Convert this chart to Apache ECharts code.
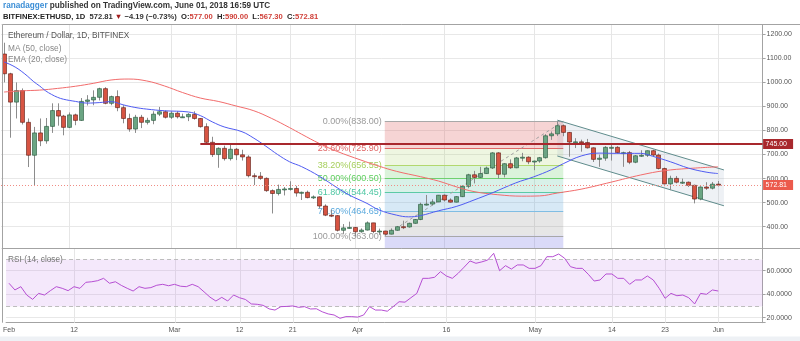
<!DOCTYPE html>
<html><head><meta charset="utf-8">
<script src="https://cdn.jsdelivr.net/npm/echarts@6/dist/echarts.min.js"></script>
<style>html,body{margin:0;padding:0;background:#fff}#c{width:800px;height:341px}</style>
</head><body><div id="c"></div>
<script>
// ---- data ----
const opens = [1118,1036,918,966,834,697,790,757,817,883,
 860,813,865,842,921,927,938,974,913,941,
 895,850,806,855,834,842,868,878,855,872,
 857,857,867,850,816,751,700,726,683,722,
 699,690,612,610,601,550,538,555,557,559,
 540,543,521,524,486,448,446,385,395,397,
 379,386,416,380,382,369,385,400,399,414,
 430,493,494,503,531,511,502,525,568,616,
 605,621,644,707,618,662,645,686,689,670,
 673,687,778,786,820,792,752,753,750,728,
 680,685,730,730,708,708,668,695,697,716,
 698,642,578,601,585,585,572,515,565,560,
 577];
const closes = [1036,918,966,834,697,790,757,817,883,860,
 813,865,842,921,927,938,974,913,941,895,
 850,806,855,834,842,868,878,855,872,857,
 857,867,850,816,751,700,726,683,722,699,
 690,612,610,601,550,538,555,557,559,540,
 543,521,524,486,448,446,385,395,397,379,
 386,416,380,382,369,385,400,399,414,430,
 493,494,503,531,511,502,525,568,616,605,
 621,644,707,618,662,645,686,689,670,673,
 687,778,786,820,792,752,753,750,728,680,
 685,730,730,708,708,668,695,697,716,698,
 642,578,601,585,585,572,515,565,560,577,
 572.81];
const lows = [1000,770,850,825,648,573,735,745,790,820,
 780,810,822,840,904,905,925,909,905,880,
 830,795,790,810,825,826,860,850,848,850,
 852,839,845,812,745,690,645,675,675,677,
 675,605,573,595,545,455,530,530,550,525,
 511,518,515,476,444,440,380,370,392,360,
 375,384,373,366,363,368,383,390,396,412,
 427,488,488,502,505,500,501,523,560,580,
 603,620,640,600,605,640,643,672,660,635,
 666,683,761,777,776,691,727,712,725,669,
 649,674,675,705,649,660,664,690,690,694,
 638,576,552,580,578,565,497,510,553,555,
 567.3];
const highs = [1165,1040,1000,975,850,815,850,852,913,913,
 865,875,870,935,947,967,978,980,945,967,
 905,870,865,865,853,880,898,883,880,880,
 870,872,880,852,830,774,730,737,746,727,
 720,697,622,627,605,555,575,565,589,570,
 546,550,530,526,493,470,448,411,421,399,
 393,422,416,392,383,393,403,425,417,432,
 500,532,514,532,534,518,527,571,620,632,
 649,650,710,710,664,680,690,707,693,675,
 690,785,796,838,825,794,768,762,765,730,
 700,735,740,735,712,715,698,718,717,720,
 704,646,612,611,600,588,575,568,585,586,
 590];
const maDays = [0,3,6,9,12,15,18,21,24,27,30,33,36,39,42,45,48,50,53,56,60,63,66,70,73,76,79,83,87,90,93,97,102,107,111,115,120];
const maVals = [960,965,968,975,984,996,1010,1014,1006,985,958,935,921,902,882,850,812,785,746,713,677,652,630,608,590,566,546,533,527,528,540,556,585,615,633,642,649];
const emaDays = [0,1,2,3,4,5,6,7,8,9,10,12,14,16,18,20,22,24,27,31,33,35,37,40,42,44,46,48,50,53,56,58,61,63,66,68,70,73,76,79,82,86,89,92,94,97,100,103,107,109,112,115,118,120];
const emaVals = [1085,1075,1062,1045,1025,1003,985,965,950,938,930,921,914,916,920,907,896,889,882,877,862,836,815,795,768,735,700,670,650,610,562,532,497,470,448,441,446,466,484,511,540,582,607,637,662,694,706,705,705,693,670,644,627,621];
const rsiVals = [49.3,43.6,46.4,39.3,35.6,40.7,39.3,43.0,46.4,45.0,
 43.0,46.4,45.0,50.1,50.6,51.5,53.5,49.3,50.6,47.5,
 45.0,42.7,46.4,45.0,45.6,47.6,48.4,47.2,48.4,46.8,
 46.4,48.4,46.4,42.0,37.5,34.2,37.3,34.2,39.3,37.0,
 35.5,31.7,31.4,30.5,27.5,26.5,29.4,29.6,30.0,28.8,
 29.4,27.4,27.6,25.0,23.2,22.3,19.5,20.9,20.9,20.5,
 22.3,29.4,26.5,26.5,25.5,29.4,33.6,33.2,37.0,40.7,
 53.5,53.5,54.4,59.2,55.5,53.5,57.8,63.0,68.3,66.3,
 67.5,69.1,74.8,60.0,64.3,61.4,64.9,64.9,62.0,62.0,
 64.3,71.9,71.9,74.2,70.6,63.4,62.0,62.0,57.0,51.2,
 52.1,57.2,57.2,53.5,53.5,48.4,52.1,52.1,55.5,52.1,
 45.0,36.5,40.7,38.7,39.3,37.0,31.7,40.7,39.9,43.6,
 42.7];
const xTickIdx = [0,11,28,39,48,59,74,89,102,111,120];
const xTickText = ['Feb','12','Mar','12','21','Apr','16','May','14','23','Jun'];
const fibLevels = [838.00,725.90,656.55,600.50,544.45,464.65,363.00];
const fibRatios = [0,23.6,38.2,50,61.8,78.6,100];
const fibStart = 64, fibEnd = 94;
const chanX = [93,121], chanUpper = [843,636], chanLower = [694,487];
const resLevel = 745, resStart = 33;
const lastPrice = 572.81;

// ---- build ----
const dates = [];
for (let i = 0; i < 128; i++) { const t = new Date(Date.UTC(2018,1,1+i)); dates.push(t.toISOString().slice(0,10)); }
const candleData = opens.map((o,i)=>[i,o,closes[i],lows[i],highs[i]]);
const maData = maDays.map((d,i)=>[d,maVals[i]]);
const emaData = emaDays.map((d,i)=>[d,emaVals[i]]);
const FF = '"Liberation Sans", Arial, sans-serif';

const fibFill = ['rgba(224,102,102,0.28)','rgba(169,212,106,0.2)','rgba(92,200,92,0.22)','rgba(76,190,150,0.22)','rgba(100,170,220,0.26)','rgba(128,128,128,0.2)','rgba(120,120,230,0.27)'];
const fibLine = ['#a8a8a8','#e06666','#b2d86e','#6fd06f','#5ccaa6','#80bde3','#a8a8a8'];
const fibText = ['#9a9a9a','#e06666','#a6cf5c','#5fcf5f','#4cc6a2','#5aa9dd','#9a9a9a'];

function vgrid(params, api, ch){
  const cs = params.coordSys;
  xTickIdx.forEach(i=>{ if(i===0) return; const x = Math.round(api.coord([i,0])[0])+0.5;
    ch.push({type:'line',shape:{x1:x,y1:cs.y,x2:x,y2:cs.y+cs.height},style:{stroke:'#e6e6e6',lineWidth:1}}); });
}
function renderBack(params, api){
  const cs = params.coordSys, ch = [];
  const P = (d,v)=>api.coord([d,v]);
  vgrid(params, api, ch);
  const fx0 = P(fibStart,500)[0], fx1 = P(fibEnd,500)[0];
  for (let i=0;i<fibLevels.length-1;i++){
    const y0 = P(fibStart,fibLevels[i])[1], y1 = P(fibStart,fibLevels[i+1])[1];
    ch.push({type:'rect',shape:{x:fx0,y:y0,width:fx1-fx0,height:y1-y0},style:{fill:fibFill[i]}});
  }
  const yb = P(fibStart,fibLevels[6])[1];
  ch.push({type:'rect',shape:{x:fx0,y:yb,width:fx1-fx0,height:cs.y+cs.height-yb},style:{fill:fibFill[6]}});
  fibLevels.forEach((lv,i)=>{
    const y = Math.round(P(fibStart,lv)[1])+0.5;
    ch.push({type:'line',shape:{x1:fx0,y1:y,x2:fx1,y2:y},style:{stroke:fibLine[i],lineWidth:1}});
    ch.push({type:'text',x:fx0-3,y:y,style:{text:fibRatios[i].toFixed(2)+'%('+lv.toFixed(2)+')',fill:fibText[i],align:'right',verticalAlign:'middle',fontSize:9,fontFamily:FF}});
  });
  const a = P(fibStart,fibLevels[6]), b = P(fibEnd,fibLevels[0]);
  ch.push({type:'line',shape:{x1:a[0],y1:a[1],x2:b[0],y2:b[1]},style:{stroke:'#a0a0a0',lineWidth:1,lineDash:[3,3]}});
  const u0 = P(chanX[0],chanUpper[0]), u1 = P(chanX[1],chanUpper[1]), l0 = P(chanX[0],chanLower[0]), l1 = P(chanX[1],chanLower[1]);
  ch.push({type:'polygon',shape:{points:[u0,u1,l1,l0]},style:{fill:'rgba(150,170,195,0.16)'}});
  ch.push({type:'line',shape:{x1:u0[0],y1:u0[1],x2:u1[0],y2:u1[1]},style:{stroke:'#5f8c8c',lineWidth:1}});
  ch.push({type:'line',shape:{x1:l0[0],y1:l0[1],x2:l1[0],y2:l1[1]},style:{stroke:'#5f8c8c',lineWidth:1}});
  return {type:'group',children:ch};
}
function renderCandle(params, api){
  const d=api.value(0), o=api.value(1), c=api.value(2), l=api.value(3), h=api.value(4);
  const pO=api.coord([d,o]), pC=api.coord([d,c]), pL=api.coord([d,l]), pH=api.coord([d,h]);
  const x = Math.round(pO[0])+0.5, up = c>=o, w=4;
  const top=Math.min(pO[1],pC[1]), bot=Math.max(pO[1],pC[1]);
  return {type:'group',children:[
    {type:'line',shape:{x1:x,y1:pH[1],x2:x,y2:pL[1]},style:{stroke:'#8c8c8c',lineWidth:1}},
    {type:'rect',shape:{x:x-w/2,y:top,width:w,height:Math.max(bot-top,1)},style:{fill:up?'#6ba583':'#d75442',stroke:up?'#225437':'#5b1a13',lineWidth:0.6}}
  ]};
}
function renderFront(params, api){
  const cs = params.coordSys, ch = [];
  const P = (d,v)=>api.coord([d,v]);
  const xr = cs.x+cs.width;
  const yR = Math.round(P(0,resLevel)[1]);
  ch.push({type:'line',shape:{x1:P(resStart,resLevel)[0],y1:yR,x2:xr,y2:yR},style:{stroke:'#a8282d',lineWidth:2}});
  const yP = Math.round(P(0,lastPrice)[1])+0.5;
  ch.push({type:'line',shape:{x1:cs.x,y1:yP,x2:xr,y2:yP},style:{stroke:'#f08c84',lineWidth:1,lineDash:[1,2]}});
  ch.push({type:'rect',shape:{x:xr+0.5,y:yR-5,width:30,height:10},style:{fill:'#a8282d'}});
  ch.push({type:'text',x:xr+3,y:yR,style:{text:resLevel.toFixed(2),fill:'#fff',verticalAlign:'middle',fontSize:7,fontFamily:FF}});
  ch.push({type:'rect',shape:{x:xr+0.5,y:yP-5.5,width:30,height:10},style:{fill:'#ec5a4c'}});
  ch.push({type:'text',x:xr+3,y:yP-0.5,style:{text:lastPrice.toFixed(2),fill:'#fff',verticalAlign:'middle',fontSize:7,fontFamily:FF}});
  return {type:'group',children:ch};
}
function renderRsiBack(params, api){
  const cs = params.coordSys, ch = [];
  vgrid(params, api, ch);
  const y70 = Math.round(api.coord([0,70])[1])+0.5, y30 = Math.round(api.coord([0,30])[1])+0.5;
  ch.push({type:'rect',shape:{x:cs.x,y:y70,width:cs.width,height:y30-y70},style:{fill:'rgba(190,120,230,0.17)'}});
  [y70,y30].forEach(y=>ch.push({type:'line',shape:{x1:cs.x,y1:y,x2:cs.x+cs.width,y2:y},style:{stroke:'#bdbdbd',lineWidth:1,lineDash:[4,3]}}));
  return {type:'group',children:ch};
}

const chart = echarts.init(document.getElementById('c'), null, {renderer:'canvas'});
const axisGray = '#a3a3a3';
chart.setOption({
  animation:false,
  backgroundColor:'#fff',
  textStyle:{fontFamily:FF},
  title:[
    {left:3, top:1, padding:0, text:'{a|ranadagger}{b| published on TradingView.com, June 01, 2018 16:59 UTC}',
     textStyle:{rich:{a:{color:'#3b8ed6',fontSize:8.2,fontFamily:FF,lineHeight:10},b:{color:'#333',fontSize:8.2,fontFamily:FF,lineHeight:10}}}},
    {left:3, top:12, padding:0, text:'{k|BITFINEX:ETHUSD, 1D}{n|  572.81 }{r|▼}{n| −4.19 (−0.73%)  }{k|O:}{v|577.00}{k|  H:}{v|590.00}{k|  L:}{v|567.30}{k|  C:}{v|572.81}',
     textStyle:{rich:{k:{color:'#222',fontWeight:'bold',fontSize:7.6,fontFamily:FF,lineHeight:10},n:{color:'#333',fontSize:7.6,fontFamily:FF,lineHeight:10},r:{color:'#a11d1d',fontSize:7.6,fontFamily:FF,lineHeight:10},v:{color:'#d0413a',fontSize:7.6,fontFamily:FF,lineHeight:10}}}}
  ],
  graphic:[
    {type:'line',shape:{x1:2.5,y1:24.5,x2:800,y2:24.5},style:{stroke:axisGray,lineWidth:1},z:10},
    {type:'line',shape:{x1:2.5,y1:24.5,x2:2.5,y2:322.7},style:{stroke:axisGray,lineWidth:1},z:10},
    {type:'line',shape:{x1:2.5,y1:248.5,x2:800,y2:248.5},style:{stroke:axisGray,lineWidth:1},z:10},
    {type:'rect',shape:{x:0,y:336.5,width:800,height:5},style:{fill:'#eef1f5'},z:10},
    {type:'text',left:8,top:32,style:{text:'Ethereum / Dollar, 1D, BITFINEX',fill:'#555',fontSize:8.3,fontFamily:FF},z:10},
    {type:'text',left:8,top:44.5,style:{text:'MA (50, close)',fill:'#888',fontSize:8.3,fontFamily:FF},z:10},
    {type:'text',left:8,top:55.5,style:{text:'EMA (20, close)',fill:'#888',fontSize:8.3,fontFamily:FF},z:10},
    {type:'text',left:8,top:255.5,style:{text:'RSI (14, close)',fill:'#777',fontSize:8.3,fontFamily:FF},z:10}
  ],
  grid:[
    {left:1, top:24.5, width:761.6, height:224},
    {left:1, top:248.5, width:761.6, height:74.2}
  ],
  xAxis:[
    {type:'category', gridIndex:0, data:dates, boundaryGap:true, axisLine:{show:false}, axisTick:{show:false}, axisLabel:{show:false}, splitLine:{show:false}},
    {type:'category', gridIndex:1, data:dates, boundaryGap:true, axisLine:{show:true,lineStyle:{color:axisGray}}, axisTick:{show:false},
     axisLabel:{interval:(i)=>xTickIdx.indexOf(i)>=0, formatter:(v,i)=>{const k=xTickIdx.indexOf(i);return k>=0?xTickText[k]:'';}, color:'#555', fontSize:7, margin:4, fontFamily:FF},
     splitLine:{show:false}}
  ],
  yAxis:[
    {type:'value', gridIndex:0, position:'right', min:309.36, max:1240.76, splitNumber:9, scale:true,
     axisLine:{show:true,lineStyle:{color:axisGray}}, axisTick:{show:true,length:3,lineStyle:{color:axisGray}},
     axisLabel:{formatter:v=>Math.abs(v-Math.round(v/100)*100)<0.01?v.toFixed(2):'', color:'#555', fontSize:7, margin:4, fontFamily:FF},
     splitLine:{show:true,lineStyle:{color:'#e8e8e8'}}},
    {type:'value', gridIndex:1, position:'right', min:15.74, max:78.89, splitNumber:3, scale:true,
     axisLine:{show:true,lineStyle:{color:axisGray}}, axisTick:{show:true,length:3,lineStyle:{color:axisGray}},
     axisLabel:{formatter:v=>Math.abs(v-Math.round(v/20)*20)<0.01?v.toFixed(4):'', color:'#555', fontSize:7, margin:4, fontFamily:FF},
     splitLine:{show:true,lineStyle:{color:'#e8e8e8'}}}
  ],
  series:[
    {type:'custom', name:'back', xAxisIndex:0, yAxisIndex:0, renderItem:renderBack, data:[[0,500]], encode:{x:0,y:1}, z:1, silent:true, clip:false},
    {type:'custom', name:'ETHUSD', xAxisIndex:0, yAxisIndex:0, renderItem:renderCandle, data:candleData, encode:{x:0,y:[1,2,3,4]}, z:3, silent:true},
    {type:'line', name:'MA (50, close)', xAxisIndex:0, yAxisIndex:0, data:maData, smooth:0.4, showSymbol:false, lineStyle:{color:'#f26c6c',width:1}, z:4, silent:true},
    {type:'line', name:'EMA (20, close)', xAxisIndex:0, yAxisIndex:0, data:emaData, smooth:0.4, showSymbol:false, lineStyle:{color:'#4f5bf2',width:1}, z:4, silent:true},
    {type:'custom', name:'front', xAxisIndex:0, yAxisIndex:0, renderItem:renderFront, data:[[0,500]], encode:{x:0,y:1}, z:5, silent:true, clip:false},
    {type:'custom', name:'rsiBack', xAxisIndex:1, yAxisIndex:1, renderItem:renderRsiBack, data:[[0,50]], encode:{x:0,y:1}, z:1, silent:true},
    {type:'line', name:'RSI (14, close)', xAxisIndex:1, yAxisIndex:1, data:rsiVals, showSymbol:false, lineStyle:{color:'#b64fd3',width:1}, z:4, silent:true}
  ]
});
</script></body></html>
